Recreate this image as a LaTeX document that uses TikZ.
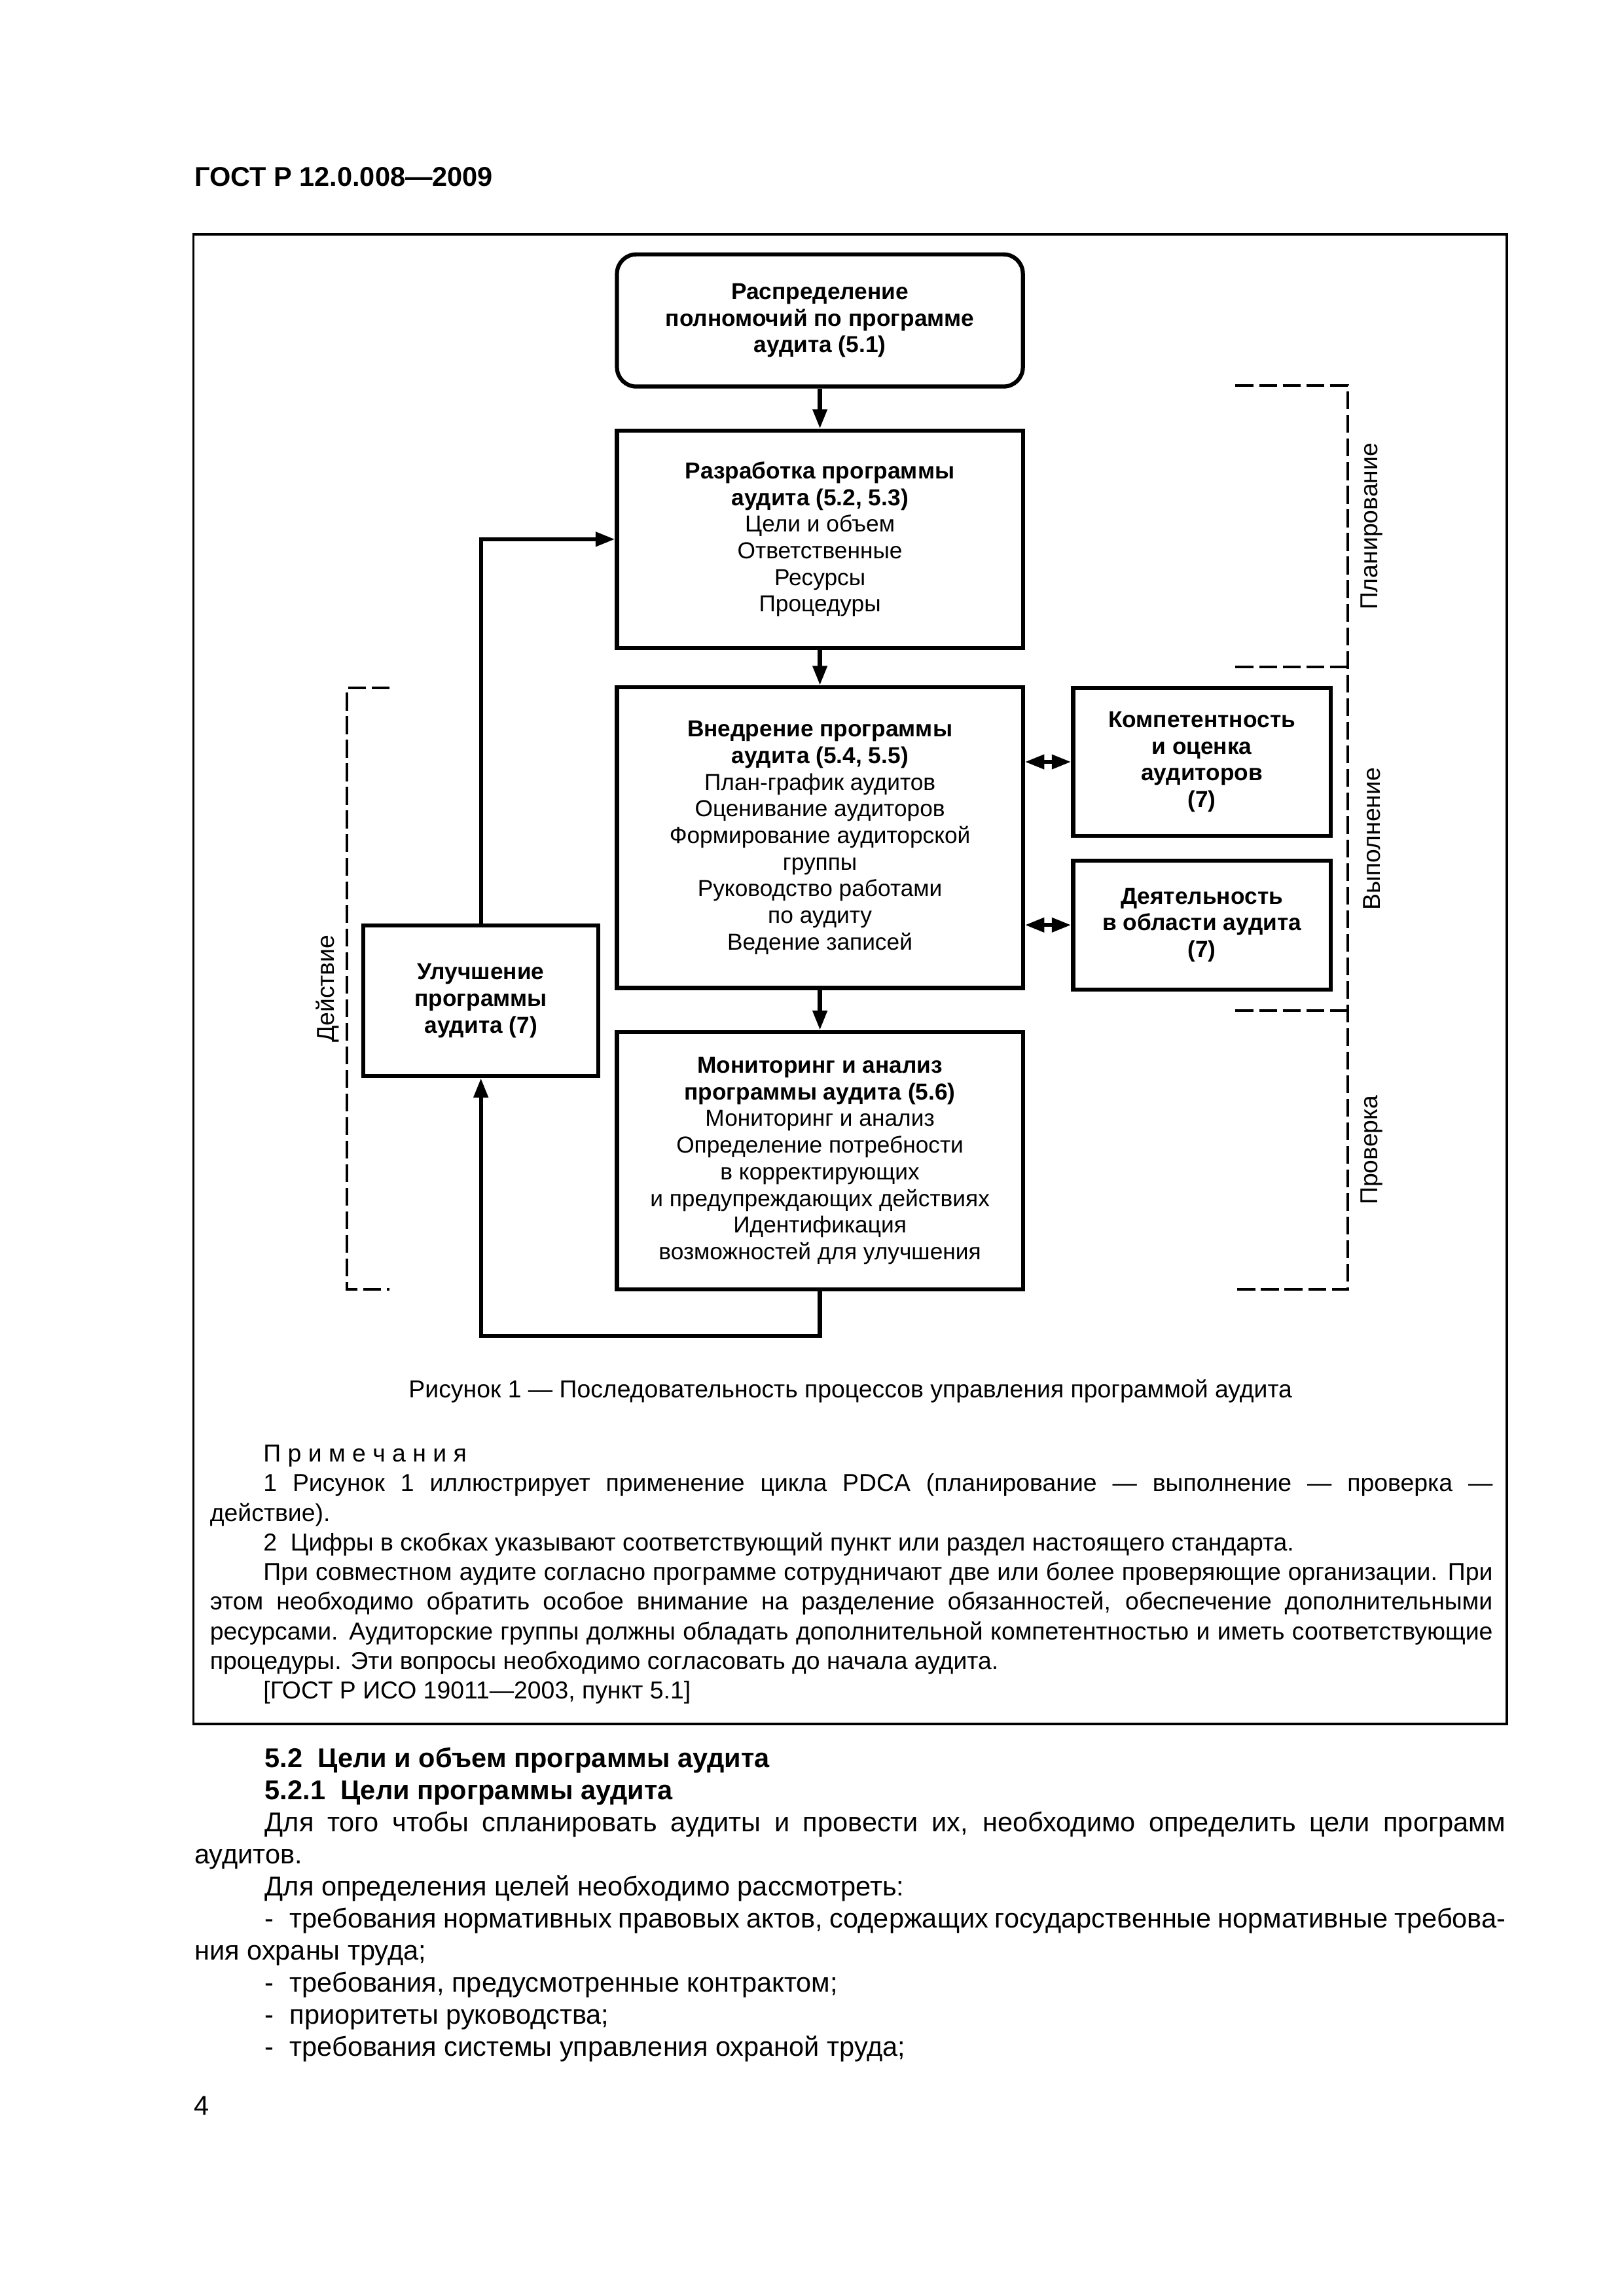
\documentclass[tikz,border=0pt]{standalone}
\usepackage{fontspec}
\setmainfont{Liberation Sans}
\usetikzlibrary{arrows.meta}

\newcommand\boxfont{\fontsize{8.5pt}{9.8pt}\selectfont}
\newcommand\phasefont{\fontsize{9pt}{10pt}\selectfont}
\newcommand\notefont{\fontsize{9pt}{10.8pt}\selectfont}
\newcommand\bodyfont{\fontsize{10pt}{12pt}\selectfont}
\newcommand\jline[2]{\makebox[#1mm][s]{#2}}
\newcommand\dashitem{\makebox[3.2mm][l]{-}}

\tikzset{
  proc/.style={draw,line width=1.5pt,align=center,font=\boxfont,inner sep=0pt},
  conn/.style={line width=1.5pt,-{Triangle[length=2.5mm,width=1.8mm]}},
  conn2/.style={line width=1.5pt,{Triangle[length=2.5mm,width=1.8mm]}-{Triangle[length=2.5mm,width=1.8mm]}},
  brkt/.style={line width=1pt,dash pattern=on 2.3mm off 0.75mm},
  ln/.style={anchor=base west,inner sep=0pt},
}

\begin{document}
\begin{tikzpicture}[x=1mm,y=-1mm]
  \useasboundingbox (0,0) rectangle (210,297);
  \node[ln,font=\bodyfont\bfseries] (hdr) at (25.1,24.1) {ГОСТ Р 12.0.008—2009};
  \draw[line width=0.8pt] (25.0,30.3) rectangle (194.9,223.0);

  % process boxes
  \node[proc,rounded corners=2.5mm,minimum width=52.5mm,minimum height=17.1mm,font=\boxfont\bfseries] (raspr) at (106.05,41.45)
    {Распределение\\полномочий по программе\\аудита (5.1)};
  \node[proc,minimum width=52.5mm,minimum height=28.1mm] (razr) at (106.05,69.75)
    {\textbf{Разработка программы}\\\textbf{аудита (5.2, 5.3)}\\Цели и объем\\Ответственные\\Ресурсы\\Процедуры};
  \node[proc,minimum width=52.5mm,minimum height=38.9mm] (vned) at (106.05,108.35)
    {\textbf{Внедрение программы}\\\textbf{аудита (5.4, 5.5)}\\План-график аудитов\\Оценивание аудиторов\\Формирование аудиторской\\группы\\Руководство работами\\по аудиту\\Ведение записей};
  \node[proc,minimum width=52.5mm,minimum height=33.3mm] (monit) at (106.05,150.15)
    {\textbf{Мониторинг и анализ}\\\textbf{программы аудита (5.6)}\\Мониторинг и анализ\\Определение потребности\\в корректирующих\\и предупреждающих действиях\\Идентификация\\возможностей для улучшения};
  \node[proc,minimum width=33.3mm,minimum height=19.1mm,font=\boxfont\bfseries] (komp) at (155.45,98.55)
    {Компетентность\\и оценка\\аудиторов\\(7)};
  \node[proc,minimum width=33.3mm,minimum height=16.7mm,font=\boxfont\bfseries] (deyat) at (155.45,119.65)
    {Деятельность\\в области аудита\\(7)};
  \node[proc,minimum width=30.4mm,minimum height=19.5mm,font=\boxfont\bfseries] (uluch) at (62.2,129.45)
    {Улучшение\\программы\\аудита (7)};

  % connectors
  \draw[conn] (raspr) -- (razr);
  \draw[conn] (razr) -- (vned);
  \draw[conn] (vned) -- (monit);
  \draw[conn] (monit.south) -- ++(0,5.7) -| (uluch.south);
  \draw[conn] (uluch.north) |- (razr.west);
  \draw[conn2] (komp.west -| vned.east) -- (komp.west);
  \draw[conn2] (deyat.west -| vned.east) -- (deyat.west);

  % PDCA brackets
  \draw[brkt] (159.8,49.9) -- (174.3,49.9) -- (174.3,166.8) -- (159.8,166.8);
  \draw[brkt] (159.8,86.3) -- (174.3,86.3);
  \draw[brkt] (159.8,130.7) -- (174.3,130.7);
  \draw[brkt] (50.4,89.0) -- (44.9,89.0) -- (44.9,166.8) -- (50.4,166.8);
  \node[rotate=90,font=\phasefont] (plan) at (177.4,68.1) {Планирование};
  \node[rotate=90,font=\phasefont] (vypol) at (177.4,108.5) {Выполнение};
  \node[rotate=90,font=\phasefont] (prov) at (177.4,148.75) {Проверка};
  \node[rotate=90,font=\phasefont] (deistv) at (42.4,127.9) {Действие};

  % caption and notes
  \node[anchor=base,inner sep=0pt,font=\notefont] (cap) at (110,180.8)
    {Рисунок 1 — Последовательность процессов управления программой аудита};
  \begin{scope}[every node/.style={ln,font=\notefont}]
    \node (n0) at (34.0,189.1) {П р и м е ч а н и я};
    \node (n1) at (34.0,192.93) {\jline{159.0}{1 Рисунок 1 иллюстрирует применение цикла PDCA (планирование — выполнение — проверка —}};
    \node (n2) at (27.1,196.76) {действие).};
    \node (n3) at (34.0,200.59) {2~~Цифры в скобках указывают соответствующий пункт или раздел настоящего стандарта.};
    \node (n4) at (34.0,204.42) {\jline{159.0}{При совместном аудите согласно программе сотрудничают две или более проверяющие организации. При}};
    \node (n5) at (27.1,208.25) {\jline{165.9}{этом необходимо обратить особое внимание на разделение обязанностей, обеспечение дополнительными}};
    \node (n6) at (27.1,212.08) {\jline{165.9}{ресурсами. Аудиторские группы должны обладать дополнительной компетентностью и иметь соответствующие}};
    \node (n7) at (27.1,215.91) {процедуры. Эти вопросы необходимо согласовать до начала аудита.};
    \node (n8) at (34.0,219.74) {[ГОСТ Р ИСО 19011—2003, пункт 5.1]};
  \end{scope}

  % running text
  \begin{scope}[every node/.style={ln,font=\bodyfont}]
    \node[font=\bodyfont\bfseries] (t1) at (34.2,228.6) {5.2~~Цели и объем программы аудита};
    \node[font=\bodyfont\bfseries] (t2) at (34.2,232.75) {5.2.1~~Цели программы аудита};
    \node (t3) at (34.2,236.9) {\jline{160.5}{Для того чтобы спланировать аудиты и провести их, необходимо определить цели программ}};
    \node (t4) at (25.1,241.05) {аудитов.};
    \node (t5) at (34.2,245.2) {Для определения целей необходимо рассмотреть:};
    \node (t6) at (34.2,249.35) {\jline{160.5}{\dashitem требования нормативных правовых актов, содержащих государственные нормативные требова-}};
    \node (t7) at (25.1,253.5) {ния охраны труда;};
    \node (t8) at (34.2,257.65) {\dashitem требования, предусмотренные контрактом;};
    \node (t9) at (34.2,261.8) {\dashitem приоритеты руководства;};
    \node (t10) at (34.2,265.95) {\dashitem требования системы управления охраной труда;};
    \node (pg) at (25.0,273.6) {4};
  \end{scope}
\end{tikzpicture}
\end{document}
